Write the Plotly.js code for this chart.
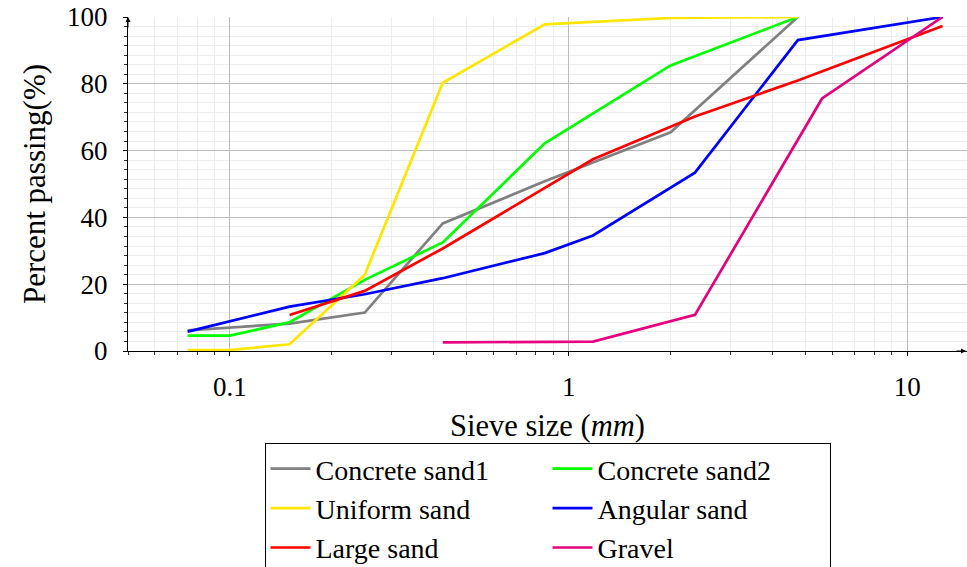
<!DOCTYPE html>
<html>
<head>
<meta charset="utf-8">
<script src="https://cdn.plot.ly/plotly-3.0.1.min.js"></script>
<style>html,body{margin:0;padding:0;background:#fff}#chart{width:967px;height:567px}</style>
</head>
<body>
<div id="chart"></div>
<script>
// Sieve sizes (mm) and percent passing for each soil
const sand1Sizes = [0.075, 0.15, 0.25, 0.425, 0.85, 2.0, 4.75];
const sand1Pass  = [6.2, 8.2, 11.5, 38.2, 50.8, 65.5, 100];

const sand2Sizes = [0.075, 0.1, 0.15, 0.25, 0.425, 0.85, 2.0, 4.75];
const sand2Pass  = [4.6, 4.6, 8.6, 21.3, 32.5, 62.2, 85.5, 100];

const uniformSizes = [0.075, 0.1, 0.15, 0.25, 0.425, 0.85, 2.0, 4.75];
const uniformPass  = [0.3, 0.3, 2.0, 22.8, 80.3, 97.8, 99.7, 100];

const angularSizes = [0.075, 0.15, 0.25, 0.425, 0.85, 1.18, 2.36, 4.75, 12.7];
const angularPass  = [5.8, 13.3, 17.0, 21.8, 29.3, 34.6, 53.4, 93.1, 100];

const largeSizes = [0.15, 0.25, 0.425, 0.85, 1.18, 2.36, 4.75, 12.7];
const largePass  = [10.8, 18.0, 30.7, 48.9, 57.4, 70.2, 81.0, 97.3];

const gravelSizes = [0.425, 0.85, 1.18, 2.36, 5.6, 12.7];
const gravelPass  = [2.6, 2.6, 2.8, 10.8, 75.6, 100];

const seriesNames = ["Concrete sand1", "Concrete sand2", "Uniform sand", "Angular sand", "Large sand", "Gravel"];
const seriesColors = ["#808080", "#00ff00", "#ffe600", "#0000ff", "#ff0000", "#e6007e"];
const seriesX = [sand1Sizes, sand2Sizes, uniformSizes, angularSizes, largeSizes, gravelSizes];
const seriesY = [sand1Pass, sand2Pass, uniformPass, angularPass, largePass, gravelPass];

const yTickVals = [0, 20, 40, 60, 80, 100];
const xTickVals = [0.1, 1, 10];
const xTickText = ["0.1", "1", "10"];
const xMinorVals = [0.05,0.06,0.07,0.08,0.09,0.2,0.3,0.4,0.5,0.6,0.7,0.8,0.9,2,3,4,5,6,7,8,9];

const FONT = "Liberation Serif, Times New Roman, serif";

const traces = seriesNames.map((n, i) => ({
  type: "scatter", mode: "lines", name: n,
  x: seriesX[i], y: seriesY[i],
  line: {color: seriesColors[i], width: 2.7},
  cliponaxis: false
}));

const layout = {
  width: 967, height: 567,
  margin: {l: 128, r: 0, t: 17, b: 216, autoexpand: false},
  paper_bgcolor: "#fff", plot_bgcolor: "#fff",
  font: {family: FONT, size: 27, color: "#000"},
  showlegend: true,
  xaxis: {
    type: "log",
    range: [Math.log10(0.05), Math.log10(15)],
    tickmode: "array", tickvals: xTickVals, ticktext: xTickText,
    tickfont: {family: FONT, size: 27},
    showgrid: true, gridcolor: "#bdbdbd", gridwidth: 1,
    showline: true, linecolor: "#000", linewidth: 1,
    ticks: "outside", ticklen: 4, tickcolor: "#000",
    ticklabelstandoff: 8,
    zeroline: false, automargin: false,
    minor: {tickmode: "array", tickvals: xMinorVals,
            showgrid: true, gridcolor: "#ededed", ticks: "outside", ticklen: 3, tickcolor: "#333"},
    title: {text: "Sieve size (<i>mm</i>)", font: {family: FONT, size: 30.5}, standoff: 13}
  },
  yaxis: {
    range: [0, 100],
    tickmode: "array", tickvals: yTickVals,
    tickfont: {family: FONT, size: 27},
    showgrid: true, gridcolor: "#bdbdbd", gridwidth: 1,
    showline: true, linecolor: "#000", linewidth: 1,
    ticks: "outside", ticklen: 4, tickcolor: "#000",
    ticklabelstandoff: 10,
    zeroline: false, automargin: false,
    minor: {dtick: 20/7, tick0: 0, showgrid: true, gridcolor: "#ededed", ticks: "outside", ticklen: 3, tickcolor: "#333"},
    title: {text: "Percent passing(%)", font: {family: FONT, size: 31}, standoff: 12}
  },
  legend: {
    orientation: "h",
    x: 0.5, xanchor: "center",
    y: (351 - 443) / 334, yanchor: "top",
    entrywidth: 227, entrywidthmode: "pixels",
    bordercolor: "#000", borderwidth: 1, bgcolor: "#fff",
    font: {family: FONT, size: 28},
    itemwidth: 40
  },
  annotations: [
    {xref: "paper", yref: "paper", x: 1, y: 0, ax: -12, ay: 0, text: "", showarrow: true,
     arrowhead: 2, arrowsize: 1, arrowwidth: 1, arrowcolor: "#000"},
    {xref: "paper", yref: "paper", x: 0, y: 1, ax: 0, ay: 12, text: "", showarrow: true,
     arrowhead: 2, arrowsize: 1, arrowwidth: 1, arrowcolor: "#000"}
  ]
};

Plotly.newPlot("chart", traces, layout, {displayModeBar: false, staticPlot: true});
</script>
</body>
</html>
